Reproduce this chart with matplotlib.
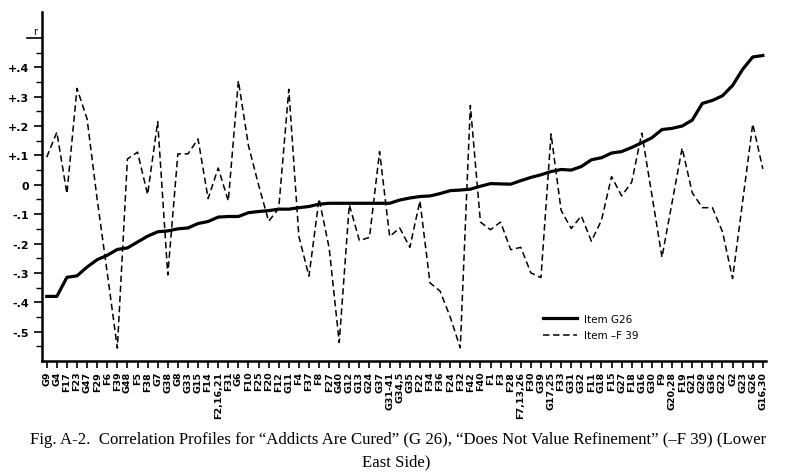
import numpy as np
import matplotlib
matplotlib.use('Agg')
import matplotlib.pyplot as plt

# DATA
items = ['G9', 'G4', 'F17', 'F23', 'G47', 'F29', 'F6', 'F39', 'G48', 'F5',
         'F38', 'G7', 'G38', 'G8', 'G33', 'G15', 'F14', 'F2,16,21', 'F31', 'G6',
         'F10', 'F25', 'F20', 'F12', 'G11', 'F4', 'F37', 'F8', 'F27', 'G40',
         'G12', 'G13', 'G24', 'G37', 'G31-41', 'G34,5', 'G35', 'F22', 'F34', 'F36',
         'F24', 'F32', 'F42', 'F40', 'F1', 'F3', 'F28', 'F7,13,26', 'F30', 'G39',
         'G17,25', 'F33', 'G31', 'G32', 'F11', 'G18', 'F15', 'G27', 'F18', 'G16',
         'G30', 'F9', 'G20,28', 'F19', 'G21', 'G29', 'G36', 'G22', 'G2', 'G23',
         'G26', 'G16,30']

g26 = [-0.38, -0.38, -0.315, -0.31, -0.28, -0.255, -0.24, -0.22, -0.215, -0.195,
       -0.175, -0.16, -0.157, -0.15, -0.147, -0.132, -0.125, -0.11, -0.108, -0.108,
       -0.095, -0.091, -0.088, -0.083, -0.083, -0.078, -0.074, -0.066, -0.063, -0.063,
       -0.063, -0.063, -0.063, -0.063, -0.063, -0.052, -0.045, -0.04, -0.038, -0.03,
       -0.02, -0.018, -0.015, -0.005, 0.004, 0.003, 0.002, 0.014, 0.025, 0.034,
       0.045, 0.052, 0.05, 0.062, 0.085, 0.092, 0.108, 0.113, 0.127, 0.143,
       0.16, 0.188, 0.192, 0.2, 0.22, 0.277, 0.287, 0.303, 0.338, 0.393,
       0.435, 0.44]

f39 = [0.094, 0.179, -0.03, 0.328, 0.224, -0.05, -0.30, -0.556, 0.088, 0.111,
       -0.033, 0.215, -0.307, 0.105, 0.105, 0.156, -0.047, 0.057, -0.055, 0.354,
       0.133, 0.0, -0.124, -0.081, 0.325, -0.176, -0.311, -0.048, -0.215, -0.537,
       -0.068, -0.19, -0.179, 0.113, -0.176, -0.147, -0.213, -0.055, -0.334, -0.362,
       -0.45, -0.555, 0.27, -0.127, -0.153, -0.127, -0.221, -0.213, -0.30, -0.316,
       0.173, -0.087, -0.149, -0.106, -0.192, -0.121, 0.028, -0.038, 0.009, 0.176,
       -0.035, -0.247, -0.06, 0.125, -0.027, -0.078, -0.078, -0.16, -0.319, -0.056,
       0.207, 0.054]

ytick_vals = [-0.5, -0.4, -0.3, -0.2, -0.1, 0, 0.1, 0.2, 0.3, 0.4]
ytick_labels = ['-.5', '-.4', '-.3', '-.2', '-.1', '0', '+.1', '+.2', '+.3', '+.4']

caption1 = ('Fig. A-2.  Correlation Profiles for \u201cAddicts Are Cured\u201d (G 26), '
            '\u201cDoes Not Value Refinement\u201d (\u2013F 39) (Lower')
caption2 = 'East Side)'

sans = ['Liberation Sans Narrow', 'DejaVu Sans']

# PLOT
fig = plt.figure(figsize=(7.92, 4.77), dpi=100)
ax = fig.add_axes([0.0524, 0.241, 0.9146, 0.7317])

x = np.arange(len(items))
ax.plot(x, g26, color='black', lw=2.3, solid_joinstyle='round', label='Item G26')
ax.plot(x, f39, color='black', lw=1.1, linestyle=(0, (4.2, 2.4)), label='Item \u2013F 39')

ax.set_xlim(-0.52, 71.3)
ax.set_ylim(-0.6, 0.588)

# DESIGN
for s in ['top', 'right']:
    ax.spines[s].set_visible(False)
ax.spines['left'].set_linewidth(1.8)
ax.spines['bottom'].set_linewidth(1.8)

ax.set_xticks(x)
ax.set_xticklabels(items, rotation=90, fontsize=6.8, fontweight='bold', family=sans)
ax.tick_params(axis='x', length=5, width=1.2, pad=2)

ax.set_yticks(ytick_vals)
ax.set_yticklabels(ytick_labels, fontsize=8, fontweight='bold', family=sans)
ax.set_yticks(np.arange(-0.55, 0.5, 0.1), minor=True)
ax.tick_params(axis='y', which='major', length=6, width=1.2, pad=3)
ax.tick_params(axis='y', which='minor', length=4, width=1.0)

# "r" marker at the top of the axis
ax.plot([-0.02, 0], [0.5, 0.5], transform=ax.get_yaxis_transform(), color='black',
        lw=1.2, clip_on=False)
ax.text(-0.009, 0.508, 'r', transform=ax.get_yaxis_transform(), ha='center', va='bottom',
        fontsize=7, family=sans)

ax.legend(frameon=False, loc='center left', bbox_to_anchor=(0.68, 0.097),
          handlelength=3.2, handletextpad=0.7, labelspacing=0.6,
          prop={'family': sans, 'size': 7.5})

# CAPTION
fig.text(0.038, 0.077, caption1, fontsize=12.1, family='Liberation Serif', ha='left', va='center')
fig.text(0.5, 0.031, caption2, fontsize=12.1, family='Liberation Serif', ha='center', va='center')

plt.savefig('out.png', dpi=100)
